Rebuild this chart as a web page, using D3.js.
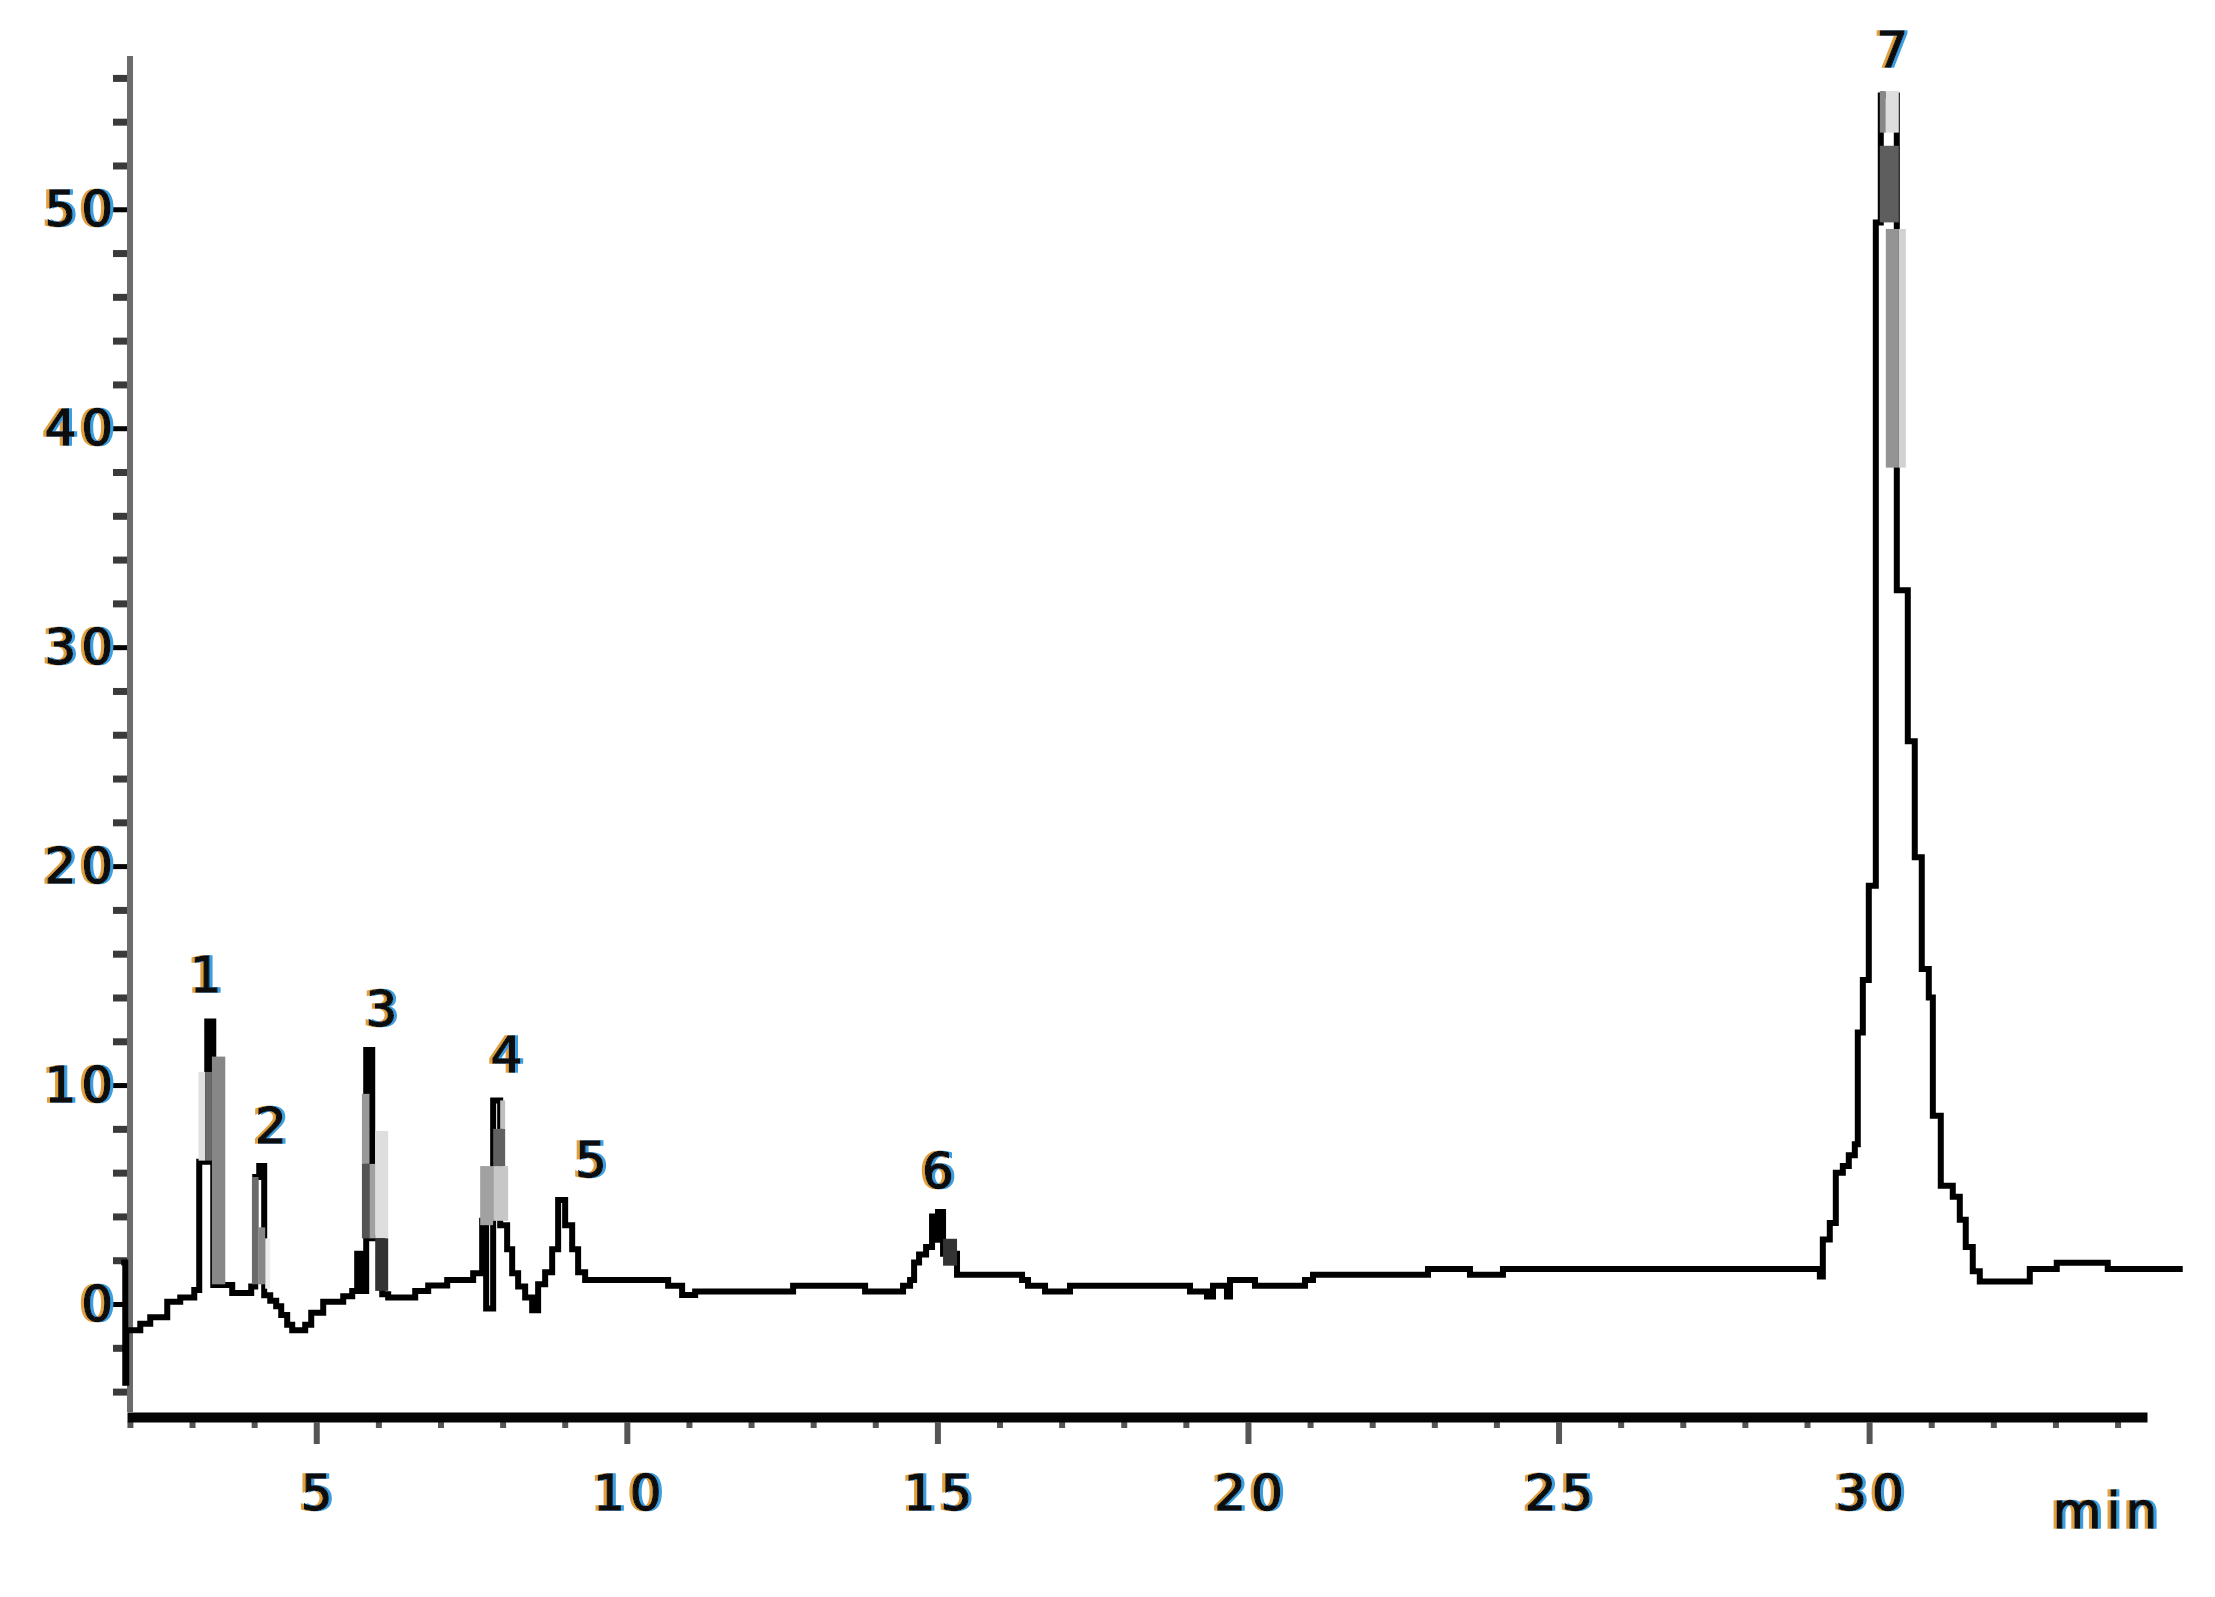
<!DOCTYPE html>
<html><head><meta charset="utf-8">
<script src="https://cdn.jsdelivr.net/npm/d3@7"></script>
<style>
html,body{margin:0;padding:0;background:#fff;}
svg{display:block;}
</style></head><body>
<svg id="chart" width="2215" height="1597"></svg>
<script>
// ---- data ----
// retention time (min) where each step of the rasterised trace starts
const traceTime = [
  1.909,1.925,1.941,2.167,2.327,2.601,2.810,3.036,3.116,3.245,
  3.342,3.647,3.953,4.017,4.082,4.162,4.259,4.355,4.436,4.532,
  4.613,4.822,4.919,5.112,5.434,5.579,5.659,5.740,5.804,5.901,
  6.062,6.158,6.593,6.802,7.108,7.526,7.671,7.735,7.848,7.961,
  8.073,8.154,8.250,8.363,8.476,8.572,8.685,8.798,8.894,9.007,
  9.120,9.216,9.329,10.665,10.890,11.100,12.677,13.836,14.447,14.560,
  14.625,14.705,14.818,14.914,15.010,15.091,15.316,16.363,16.459,16.733,
  17.135,19.067,19.340,19.437,19.662,19.711,20.113,20.918,21.047,22.898,
  23.574,24.105,29.207,29.255,29.367,29.464,29.577,29.673,29.770,29.818,
  29.899,29.995,30.108,30.188,30.446,30.623,30.735,30.848,30.961,31.026,
  31.154,31.347,31.460,31.556,31.669,31.782,32.587,33.021,33.842,35.001
];
// detector signal (mAU) held from each step start
const traceSignal = [
  1.9,-3.6,-1.2,-0.9,-0.6,0.1,0.3,0.64,6.5,12.9,
  0.87,0.5,0.8,5.8,6.3,0.4,0.15,-0.1,-0.5,-0.95,
  -1.2,-0.95,-0.4,0.1,0.35,0.6,2.3,0.6,11.6,3.0,
  0.45,0.3,0.6,0.85,1.1,1.4,3.8,-0.2,9.3,3.6,
  2.5,1.4,0.8,0.3,-0.28,0.9,1.45,2.5,4.75,3.6,
  2.5,1.45,1.1,0.83,0.41,0.57,0.83,0.57,0.83,1.1,
  1.9,2.26,2.6,4.0,4.2,2.3,1.34,1.1,0.83,0.57,
  0.83,0.57,0.34,0.83,0.34,1.1,0.83,1.1,1.34,1.6,
  1.34,1.6,1.26,2.95,3.7,6.0,6.3,6.8,7.3,12.4,
  14.8,19.1,49.4,55.2,32.6,25.7,20.4,15.3,14.0,8.6,
  5.4,4.9,3.85,2.6,1.5,1.03,1.6,1.88,1.6,1.6
];
// grey blended blocks inside the narrow peaks: time range, signal range, darkness (0 white .. 1 black)
const shadeStart = [3.105,3.213,3.320, 3.964,4.071,4.178, 5.735,5.735,5.857,5.949,5.949, 7.639,7.848,7.848,7.961, 14.914,15.091, 30.172,30.269,30.172,30.269,30.478];
const shadeEnd   = [3.213,3.320,3.535, 4.071,4.178,4.259, 5.857,5.857,5.949,6.158,6.158, 7.848,8.041,8.089,8.041, 15.091,15.316, 30.269,30.478,30.478,30.478,30.591];
const shadeLow   = [6.55,6.55,0.9, 0.9,0.9,0.7, 6.4,3.0,3.0,3.0,0.6, 3.6,6.3,3.8,8.0, 2.8,1.75, 53.5,53.5,49.4,38.2,38.2];
const shadeHigh  = [10.6,10.6,11.3, 5.8,3.5,3.0, 9.6,6.4,6.4,7.9,3.0, 6.3,8.0,6.3,9.3, 4.0,2.98, 55.4,55.4,52.9,49.1,49.1];
const shadeTone  = [0.12,0.58,0.47, 0.58,0.47,0.07, 0.4,0.67,0.37,0.13,0.8, 0.37,0.62,0.22,0.25, 1.0,0.8, 0.47,0.13,0.63,0.42,0.18];

// peak numbers and where they are written (time, signal at text baseline)
const peakNames = ["1","2","3","4","5","6","7"];
const peakLabelTime = [3.22,4.27,6.05,8.06,9.42,15.01,30.37];
const peakLabelLevel = [14.25,7.35,12.69,10.59,5.80,5.30,56.48];

// axes
const xTickValues = [5,10,15,20,25,30];
const xTickLabels = ["5","10","15","20","25","30"];
const yTickValues = [0,10,20,30,40,50];
const yTickLabels = ["0","10","20","30","40","50"];
const xUnit = "min";
const xDomain = [1.953, 34.474];
const yDomain = [-5.16, 57.0];

// ---- drawing ----
const svg = d3.select("#chart");
const FONT = "'DejaVu Sans', Verdana, sans-serif";
const FS = 50, LS = 5;

const defs = svg.append("defs");
const f = defs.append("filter").attr("id","fringe").attr("x","-20%").attr("y","-20%").attr("width","140%").attr("height","140%");
f.append("feOffset").attr("in","SourceAlpha").attr("dx",-3).attr("dy",0).attr("result","lo");
f.append("feFlood").attr("flood-color","#e0a040").attr("result","lf");
f.append("feComposite").attr("in","lf").attr("in2","lo").attr("operator","in").attr("result","lc");
f.append("feOffset").attr("in","SourceAlpha").attr("dx",3).attr("dy",0).attr("result","ro");
f.append("feFlood").attr("flood-color","#3a9ee0").attr("result","rf");
f.append("feComposite").attr("in","rf").attr("in2","ro").attr("operator","in").attr("result","rc");
const m = f.append("feMerge");
m.append("feMergeNode").attr("in","lc");
m.append("feMergeNode").attr("in","rc");
m.append("feMergeNode").attr("in","SourceGraphic");

const x = d3.scaleLinear().domain(xDomain).range([127, 2147]);
const y = d3.scaleLinear().domain(yDomain).range([1417, 56]);

function styleText(sel){
  sel.attr("font-family", FONT).attr("font-size", FS).attr("font-weight", "normal").attr("letter-spacing", LS)
     .attr("fill", "#111").attr("stroke", "#111").attr("stroke-width", 1.4)
     .attr("filter", "url(#fringe)");
}

// x axis
const gx = svg.append("g").attr("transform", `translate(0,${y(yDomain[0])})`);
const minorX = d3.range(2, 35).filter(v => v % 5 !== 0);
const gxm = gx.append("g").call(d3.axisBottom(x).tickValues(minorX).tickSize(11).tickFormat(""));
gxm.select(".domain").remove();
gxm.selectAll(".tick line").attr("stroke", "#555").attr("stroke-width", 6).attr("y1", 5);
const gxM = gx.append("g").call(d3.axisBottom(x).tickValues(xTickValues).tickSize(27).tickSizeOuter(0)
  .tickFormat((d,i) => xTickLabels[i]));
gxM.select(".domain").attr("stroke", "#050505").attr("stroke-width", 10);
gxM.selectAll(".tick line").attr("stroke", "#555").attr("stroke-width", 6).attr("y1", 5);
gxM.attr("font-size", null).attr("font-family", null);
gxM.selectAll(".tick text").attr("y", 93).attr("dy", 0).attr("dx", LS/2).call(styleText);

// y axis
const gy = svg.append("g").attr("transform", `translate(127,0)`);
const minorY = d3.range(-4, 57, 2).filter(v => v % 10 !== 0);
const gym = gy.append("g").call(d3.axisLeft(y).tickValues(minorY).tickSize(14).tickFormat(""));
gym.select(".domain").remove();
gym.selectAll(".tick line").attr("stroke", "#3a3a3a").attr("stroke-width", 7);
const gyM = gy.append("g").call(d3.axisLeft(y).tickValues(yTickValues).tickSize(20).tickFormat((d,i) => yTickLabels[i]));
gyM.select(".domain").remove();
gyM.attr("font-size", null).attr("font-family", null);
gyM.selectAll(".tick line").attr("stroke", "#000").attr("stroke-width", 5);
gyM.selectAll(".tick text").attr("x", -9).attr("dy", "0.33em").call(styleText);
svg.append("line").attr("x1", 130).attr("x2", 130).attr("y1", y(yDomain[1])).attr("y2", y(yDomain[0]) - 5)
  .attr("stroke", "#6b6b6b").attr("stroke-width", 6);

// trace
const pts = traceTime.map((t, i) => [t, traceSignal[i]]);
const line = d3.line().x(d => x(d[0])).y(d => y(d[1])).curve(d3.curveStepAfter);
svg.append("path").datum(pts).attr("d", line).attr("fill", "none")
  .attr("stroke", "#000").attr("stroke-width", 6).attr("stroke-linejoin", "miter").attr("stroke-linecap", "square");

// grey blended blocks
const tone = d3.scaleLinear().domain([0, 1]).range(["#ffffff", "#000000"]);
const shades = shadeStart.map((s, i) => ({s, e: shadeEnd[i], lo: shadeLow[i], hi: shadeHigh[i], k: shadeTone[i]}));
svg.append("g").selectAll("rect").data(shades).join("rect")
  .attr("x", d => x(d.s)).attr("width", d => x(d.e) - x(d.s))
  .attr("y", d => y(d.hi)).attr("height", d => y(d.lo) - y(d.hi))
  .attr("fill", d => tone(d.k));

// peak numbers
svg.append("g").selectAll("text").data(peakNames).join("text")
  .attr("x", (d, i) => x(peakLabelTime[i])).attr("y", (d, i) => y(peakLabelLevel[i]))
  .attr("dx", LS/2).attr("text-anchor", "middle").text(d => d).call(styleText);

// unit label
svg.append("text").attr("x", 2105).attr("y", 1528).attr("text-anchor", "middle").attr("dx", LS/2)
  .text(xUnit).call(styleText);
</script></body></html>
